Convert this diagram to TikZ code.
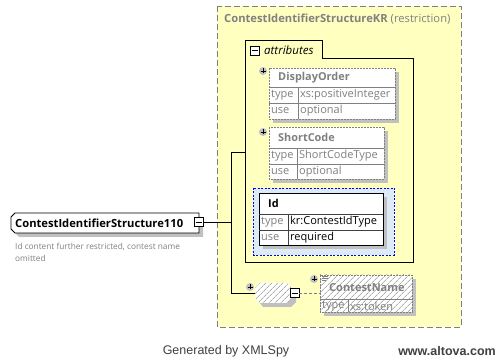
\documentclass[tikz,border=0pt]{standalone}
\usepackage{fontspec}
\setmainfont{Open Sans}
\newfontfamily\footfont{Liberation Sans}
\usetikzlibrary{patterns.meta}
\definecolor{ylw}{HTML}{FFFFC0}
\definecolor{gbord}{HTML}{808080}
\definecolor{gtext}{HTML}{808080}
\definecolor{shad}{HTML}{C0C0C0}
\definecolor{bfill}{HTML}{DDEAF7}
\tikzset{
  shadowbox/.style={fill=shad,draw=none},
  dashbox/.style={draw=gbord,dash pattern=on 2pt off 1pt,line width=0.6pt},
  rowline/.style={draw=gbord,line width=0.6pt},
  conn/.style={draw=black,line width=0.6pt},
  hatch/.style={pattern={Lines[angle=45,distance=4pt,line width=0.5pt]},pattern color=gbord},
  lbl/.style={anchor=west,inner sep=0pt,font=\fontsize{11}{12}\selectfont},
  hdr/.style={anchor=west,inner sep=0pt,font=\fontsize{10.9}{12}\selectfont\bfseries},
  plusc/.style={circle,fill=shad,draw=none,minimum size=8pt,inner sep=0pt},
  minusbox/.style={draw=black,fill=white,minimum size=9pt,inner sep=0pt,line width=0.6pt},
}
\newcommand\plusmark[3]{%
  \node[plusc] (#1) at (#2,#3) {};
  \draw[black,line width=0.8pt] ([xshift=-2.5pt]#1.center) -- ([xshift=2.5pt]#1.center)
    ([yshift=-2.5pt]#1.center) -- ([yshift=2.5pt]#1.center);}
\newcommand\minusmark[3]{%
  \node[minusbox] (#1) at (#2,#3) {};
  \draw[black,line width=0.6pt] ([xshift=-3pt]#1.center) -- ([xshift=3pt]#1.center);}
\begin{document}
\begin{tikzpicture}[x=1pt,y=-1pt]
\useasboundingbox[fill=white] (0,0) rectangle (504,358);

% restriction container
\path[fill=ylw,draw=gbord,dash pattern=on 6pt off 3pt,line width=0.8pt] (217,6) rectangle (461,327);
\node[anchor=west,inner sep=0pt,text=gtext,font=\fontsize{11.2}{12}\selectfont] (title) at (224,19)
  {\textbf{ContestIdentifierStructureKR} (restriction)};

% attributes group
\draw[black,line width=0.8pt] (245,40) -- (322,40) -- (322,58) -- (413,58) -- (413,262) -- (245,262) -- cycle;
\coordinate (attrL) at (245,152);
\minusmark{mattr}{254.5}{50.5}
\node[anchor=west,inner sep=0pt,font=\fontsize{11.5}{12}\selectfont\itshape] (attrtxt) at (264,50) {attributes};

% DisplayOrder
\fill[shadowbox] (273,72) rectangle (399,123);
\path[fill=white,dashbox] (269,68) rectangle (395,119);
\draw[rowline] (269,87) -- (395,87) (269,103) -- (395,103) (298,87) -- (298,119);
\node[hdr,text=gtext] (do) at (278,78) {DisplayOrder};
\node[lbl,text=gtext] at (271,95) {type};
\node[lbl,text=gtext] at (300,95) {xs:positiveInteger};
\node[lbl,text=gtext] at (271,111) {use};
\node[lbl,text=gtext] at (300,111) {optional};
\plusmark{pdo}{263}{71}

% ShortCode
\fill[shadowbox] (273,131) rectangle (388,183);
\path[fill=white,dashbox] (269,127) rectangle (384,179);
\draw[rowline] (269,148) -- (384,148) (269,164) -- (384,164) (297,148) -- (297,179);
\node[hdr,text=gtext] (sc) at (278,137) {ShortCode};
\node[lbl,text=gtext] at (271,156) {type};
\node[lbl,text=gtext] at (299,156) {ShortCodeType};
\node[lbl,text=gtext] at (271,172) {use};
\node[lbl,text=gtext] at (299,172) {optional};
\plusmark{psc}{263}{132}

% Id (selected)
\path[fill=bfill,draw=blue,dash pattern=on 2pt off 1.5pt,line width=0.6pt] (253,188) rectangle (394,255);
\fill[shadowbox] (263,197) rectangle (387,249);
\path[fill=white,draw=black,line width=0.8pt] (259,193) rectangle (383,245);
\draw[black!75,line width=0.6pt] (259,214) -- (383,214) (259,230) -- (383,230) (288,214) -- (288,245);
\node[hdr,text=black] (id) at (268,203) {Id};
\node[lbl,text=gtext] at (261,222) {type};
\node[lbl,text=black] at (290,222) {kr:ContestIdType};
\node[lbl,text=gtext] at (261,238) {use};
\node[lbl,text=black] at (290,238) {required};

% sequence compositor
\fill[shadowbox] (263,287) -- (291,287) -- (296,292) -- (296,302) -- (291,307) -- (263,307) -- (259,302) -- (259,292) -- cycle;
\path[fill=white] (260,283) -- (287,283) -- (292,288) -- (292,298) -- (287,303) -- (260,303) -- (255,298) -- (255,288) -- cycle;
\path[hatch] (260,283) -- (287,283) -- (292,288) -- (292,298) -- (287,303) -- (260,303) -- (255,298) -- (255,288) -- cycle;
\coordinate (seqL) at (255,293);
\plusmark{pseq}{250}{287}
\minusmark{mseq}{294.5}{293}

% ContestName (prohibited)
\fill[shadowbox] (324,279) rectangle (416,316);
\path[fill=white] (320,275) rectangle (412,312);
\path[hatch] (320,275) rectangle (412,312);
\path[dashbox] (320,275) rectangle (412,312);
\draw[rowline] (320,299) -- (412,299) (348,299) -- (348,312);
\coordinate (cnL) at (320,293);
\node[anchor=west,inner sep=0pt,text=gtext,font=\fontsize{11}{12}\selectfont\bfseries] (cn) at (329,288) {ContestName};
\node[lbl,text=gtext] at (322,306) {type};
\node[lbl,text=gtext] at (350,306) {xs:token};
\plusmark{pcn}{314}{279}
\draw[gbord,line width=0.5pt] (322,276) -- (328,276) (322,278) -- (328,278) (322,280) -- (326,280);

% main element
\fill[shadowbox] (19,217) -- (203,217) -- (203,237) -- (19,237) -- (15,233) -- (15,221) -- cycle;
\path[fill=white,draw=black,line width=0.8pt] (15,213) -- (199,213) -- (199,233) -- (15,233) -- (11,229) -- (11,217) -- cycle;
\node[anchor=west,inner sep=0pt,font=\fontsize{11.2}{12}\selectfont\bfseries] (main) at (15,223) {ContestIdentifierStructure110};
\minusmark{mmain}{198.5}{222}
\node[anchor=west,inner sep=0pt,text=gtext,align=left,font=\fontsize{8.3}{12}\selectfont] (ann) at (15,252)
  {Id content further restricted, contest name\\omitted};

% connectors
\coordinate (jtop) at (231,152);
\coordinate (jmid) at (231,222);
\coordinate (jbot) at (231,293);
\draw[conn] (mmain.east) -- (jmid);
\draw[conn] (attrL) -- (jtop) -- (jbot) -- (seqL);
\draw[gbord,line width=0.6pt,dash pattern=on 3pt off 2pt] (mseq.east) -- (cnL);

% footer
\node[inner sep=0pt,font=\footfont\fontsize{12.5}{13}\selectfont,text=black!75] (gen) at (226,351) {Generated by XMLSpy};
\node[inner sep=0pt,font=\footfont\fontsize{12.5}{13}\selectfont\bfseries,text=black!75] (alt) at (447,351) {www.altova.com};
\end{tikzpicture}
\end{document}
